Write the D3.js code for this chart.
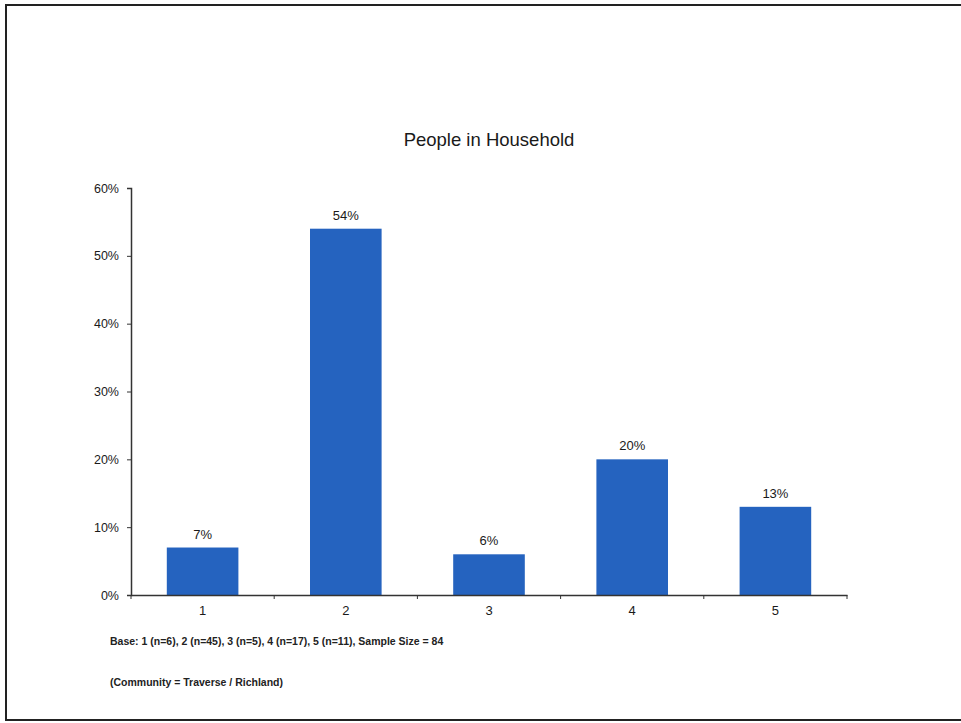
<!DOCTYPE html>
<html>
<head>
<meta charset="utf-8">
<script src="https://cdn.jsdelivr.net/npm/d3@7"></script>
<style>
  html, body { margin: 0; padding: 0; background: #fff; }
  svg { display: block; font-family: "Liberation Sans", Arial, sans-serif; }
</style>
</head>
<body>
<svg id="chart" width="961" height="723"></svg>
<script>
const categories = ["1", "2", "3", "4", "5"];
const values = [7, 54, 6, 20, 13];
const valueLabels = ["7%", "54%", "6%", "20%", "13%"];
const yTicks = [0, 10, 20, 30, 40, 50, 60];
const title = "People in Household";
const notes = [
  "Base: 1 (n=6), 2 (n=45), 3 (n=5), 4 (n=17), 5 (n=11), Sample Size = 84",
  "(Community = Traverse / Richland)"
];

const svg = d3.select("#chart");

// page border (scanned frame)
svg.append("line").attr("x1", 6).attr("x2", 961).attr("y1", 5).attr("y2", 5)
  .attr("stroke", "#222").attr("stroke-width", 2);
svg.append("line").attr("x1", 6).attr("x2", 6).attr("y1", 4).attr("y2", 721)
  .attr("stroke", "#222").attr("stroke-width", 2);
svg.append("line").attr("x1", 6).attr("x2", 961).attr("y1", 720).attr("y2", 720)
  .attr("stroke", "#222").attr("stroke-width", 2);

const mLeft = 131, mRight = 847, mTop = 188, mBottom = 595;

const x = d3.scaleBand().domain(categories).range([mLeft, mRight]).paddingInner(0.5).paddingOuter(0.25);
const y = d3.scaleLinear().domain([0, 60]).range([mBottom, mTop]);

// title
svg.append("text").attr("x", 489).attr("y", 146).attr("text-anchor", "middle")
  .attr("font-size", 18.5).attr("fill", "#1a1a1a").text(title);

// bars
svg.selectAll("rect.bar").data(values).enter().append("rect")
  .attr("class", "bar")
  .attr("x", (d, i) => x(categories[i]))
  .attr("width", x.bandwidth())
  .attr("y", d => y(d))
  .attr("height", d => y(0) - y(d))
  .attr("fill", "#2563BF");

// value labels
svg.selectAll("text.vl").data(values).enter().append("text")
  .attr("class", "vl")
  .attr("x", (d, i) => x(categories[i]) + x.bandwidth() / 2)
  .attr("y", d => y(d) - 9)
  .attr("text-anchor", "middle")
  .attr("font-size", 13).attr("fill", "#1a1a1a")
  .text((d, i) => valueLabels[i]);

// y axis
const yAxis = d3.axisLeft(y).tickValues(yTicks).tickFormat(d => d + "%").tickSize(4).tickPadding(8);
const gy = svg.append("g").attr("transform", `translate(${mLeft},0)`).call(yAxis);
gy.select(".domain").attr("stroke", "#333").attr("stroke-width", 1.5);
gy.selectAll(".tick line").attr("stroke", "#333");
gy.selectAll(".tick text").attr("font-size", 12.5).attr("fill", "#1a1a1a")
  .attr("font-family", "'Liberation Sans', Arial, sans-serif");

// x axis
const xAxis = d3.axisBottom(x).tickSize(0).tickPadding(11);
const gx = svg.append("g").attr("transform", `translate(0,${mBottom})`).call(xAxis);
gx.select(".domain").attr("stroke", "#333").attr("stroke-width", 1.5);
gx.selectAll(".tick text").attr("font-size", 13).attr("fill", "#1a1a1a")
  .attr("font-family", "'Liberation Sans', Arial, sans-serif");

// category boundary ticks
const bounds = d3.range(categories.length + 1).map(i => mLeft + i * (mRight - mLeft) / categories.length);
svg.selectAll("line.bt").data(bounds).enter().append("line")
  .attr("class", "bt")
  .attr("x1", d => d).attr("x2", d => d)
  .attr("y1", mBottom).attr("y2", mBottom + 4)
  .attr("stroke", "#333").attr("stroke-width", 1);

// notes
svg.selectAll("text.note").data(notes).enter().append("text")
  .attr("class", "note")
  .attr("x", 110)
  .attr("y", (d, i) => 645 + i * 41)
  .attr("font-size", 10.5).attr("font-weight", "bold").attr("fill", "#222")
  .text(d => d);
</script>
</body>
</html>
